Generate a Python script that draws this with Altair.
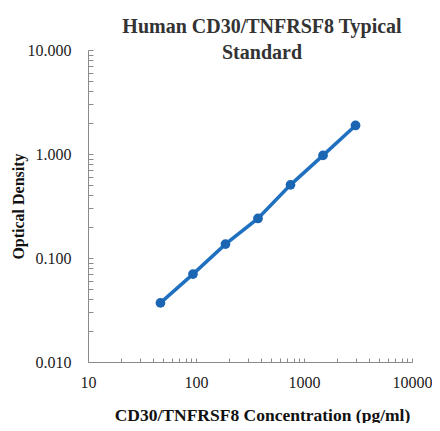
import altair as alt
import pandas as pd

# Data
conc = [46.88, 93.75, 187.5, 375, 750, 1500, 3000]
od = [0.037, 0.070, 0.136, 0.240, 0.505, 0.970, 1.880]

x_labels = [10, 100, 1000, 10000]
y_labels = [0.01, 0.1, 1, 10]
x_minor = [10, 20, 30, 40, 50, 60, 70, 80, 90,
           100, 200, 300, 400, 500, 600, 700, 800, 900,
           1000, 2000, 3000, 4000, 5000, 6000, 7000, 8000, 9000, 10000]
y_minor = [0.01, 0.02, 0.03, 0.04, 0.05, 0.06, 0.07, 0.08, 0.09,
           0.1, 0.2, 0.3, 0.4, 0.5, 0.6, 0.7, 0.8, 0.9,
           1, 2, 3, 4, 5, 6, 7, 8, 9, 10]

title_lines = ["Human CD30/TNFRSF8 Typical", "Standard"]
x_title = "CD30/TNFRSF8 Concentration (pg/ml)"
y_title = "Optical Density"

df = pd.DataFrame({"conc": conc, "od": od})

W, H = 324, 312
SERIF = "Liberation Serif"
AXIS_GRAY = "#8a8a8a"
LINE_BLUE = "#2070c0"
POINT_BLUE = "#1a66b3"

xs = alt.Scale(type="log", domain=[10, 10000], nice=False)
ys = alt.Scale(type="log", domain=[0.01, 10], nice=False)

x_main = alt.X(
    "conc:Q", scale=xs,
    axis=alt.Axis(values=x_labels, format="d", ticks=False, tickSize=0, grid=False,
                  domainColor=AXIS_GRAY, labelFont=SERIF, labelFontSize=16,
                  labelColor="#222222", labelPadding=12, labelFlush=False,
                  title=x_title, titleFont=SERIF, titleFontSize=17.5,
                  titleFontWeight="bold", titleColor="#111111", titlePadding=16,
                  titleX=174),
)
y_main = alt.Y(
    "od:Q", scale=ys,
    axis=alt.Axis(values=y_labels, format=".3f", ticks=False, tickSize=0, grid=False,
                  domainColor=AXIS_GRAY, labelFont=SERIF, labelFontSize=16,
                  labelColor="#222222", labelPadding=17,
                  title=y_title, titleFont=SERIF, titleFontSize=16,
                  titleFontWeight="bold", titleColor="#111111", titlePadding=1),
)

curve = alt.Chart(df).mark_line(
    color=LINE_BLUE, strokeWidth=3.5,
    point=alt.OverlayMarkDef(filled=True, color=POINT_BLUE, size=95, opacity=1),
).encode(x=x_main, y=y_main)

ticks = alt.Chart(df).mark_circle(opacity=0).encode(
    x=alt.X("conc:Q", scale=xs,
            axis=alt.Axis(orient="top", offset=-H, values=x_minor, labels=False,
                          domain=False, grid=False, tickSize=4, tickColor=AXIS_GRAY,
                          title="")),
    y=alt.Y("od:Q", scale=ys,
            axis=alt.Axis(orient="right", offset=-W, values=y_minor, labels=False,
                          domain=False, grid=False, tickSize=5, tickColor=AXIS_GRAY,
                          title="")),
)

chart = alt.layer(curve, ticks).resolve_axis(
    x="independent", y="independent"
).properties(
    width=W, height=H,
    autosize=alt.AutoSizeParams(type="none"),
    padding={"left": 80, "top": 42, "right": 20, "bottom": 61},
    title=alt.TitleParams(
        text=title_lines, font=SERIF, fontSize=20, fontWeight="bold",
        color="#333333", anchor="middle", frame="group", dx=12,
        lineHeight=26, offset=-21,
    ),
).configure_view(stroke="transparent")

chart.save("out.html", embed_options={"renderer": "svg", "actions": False})
